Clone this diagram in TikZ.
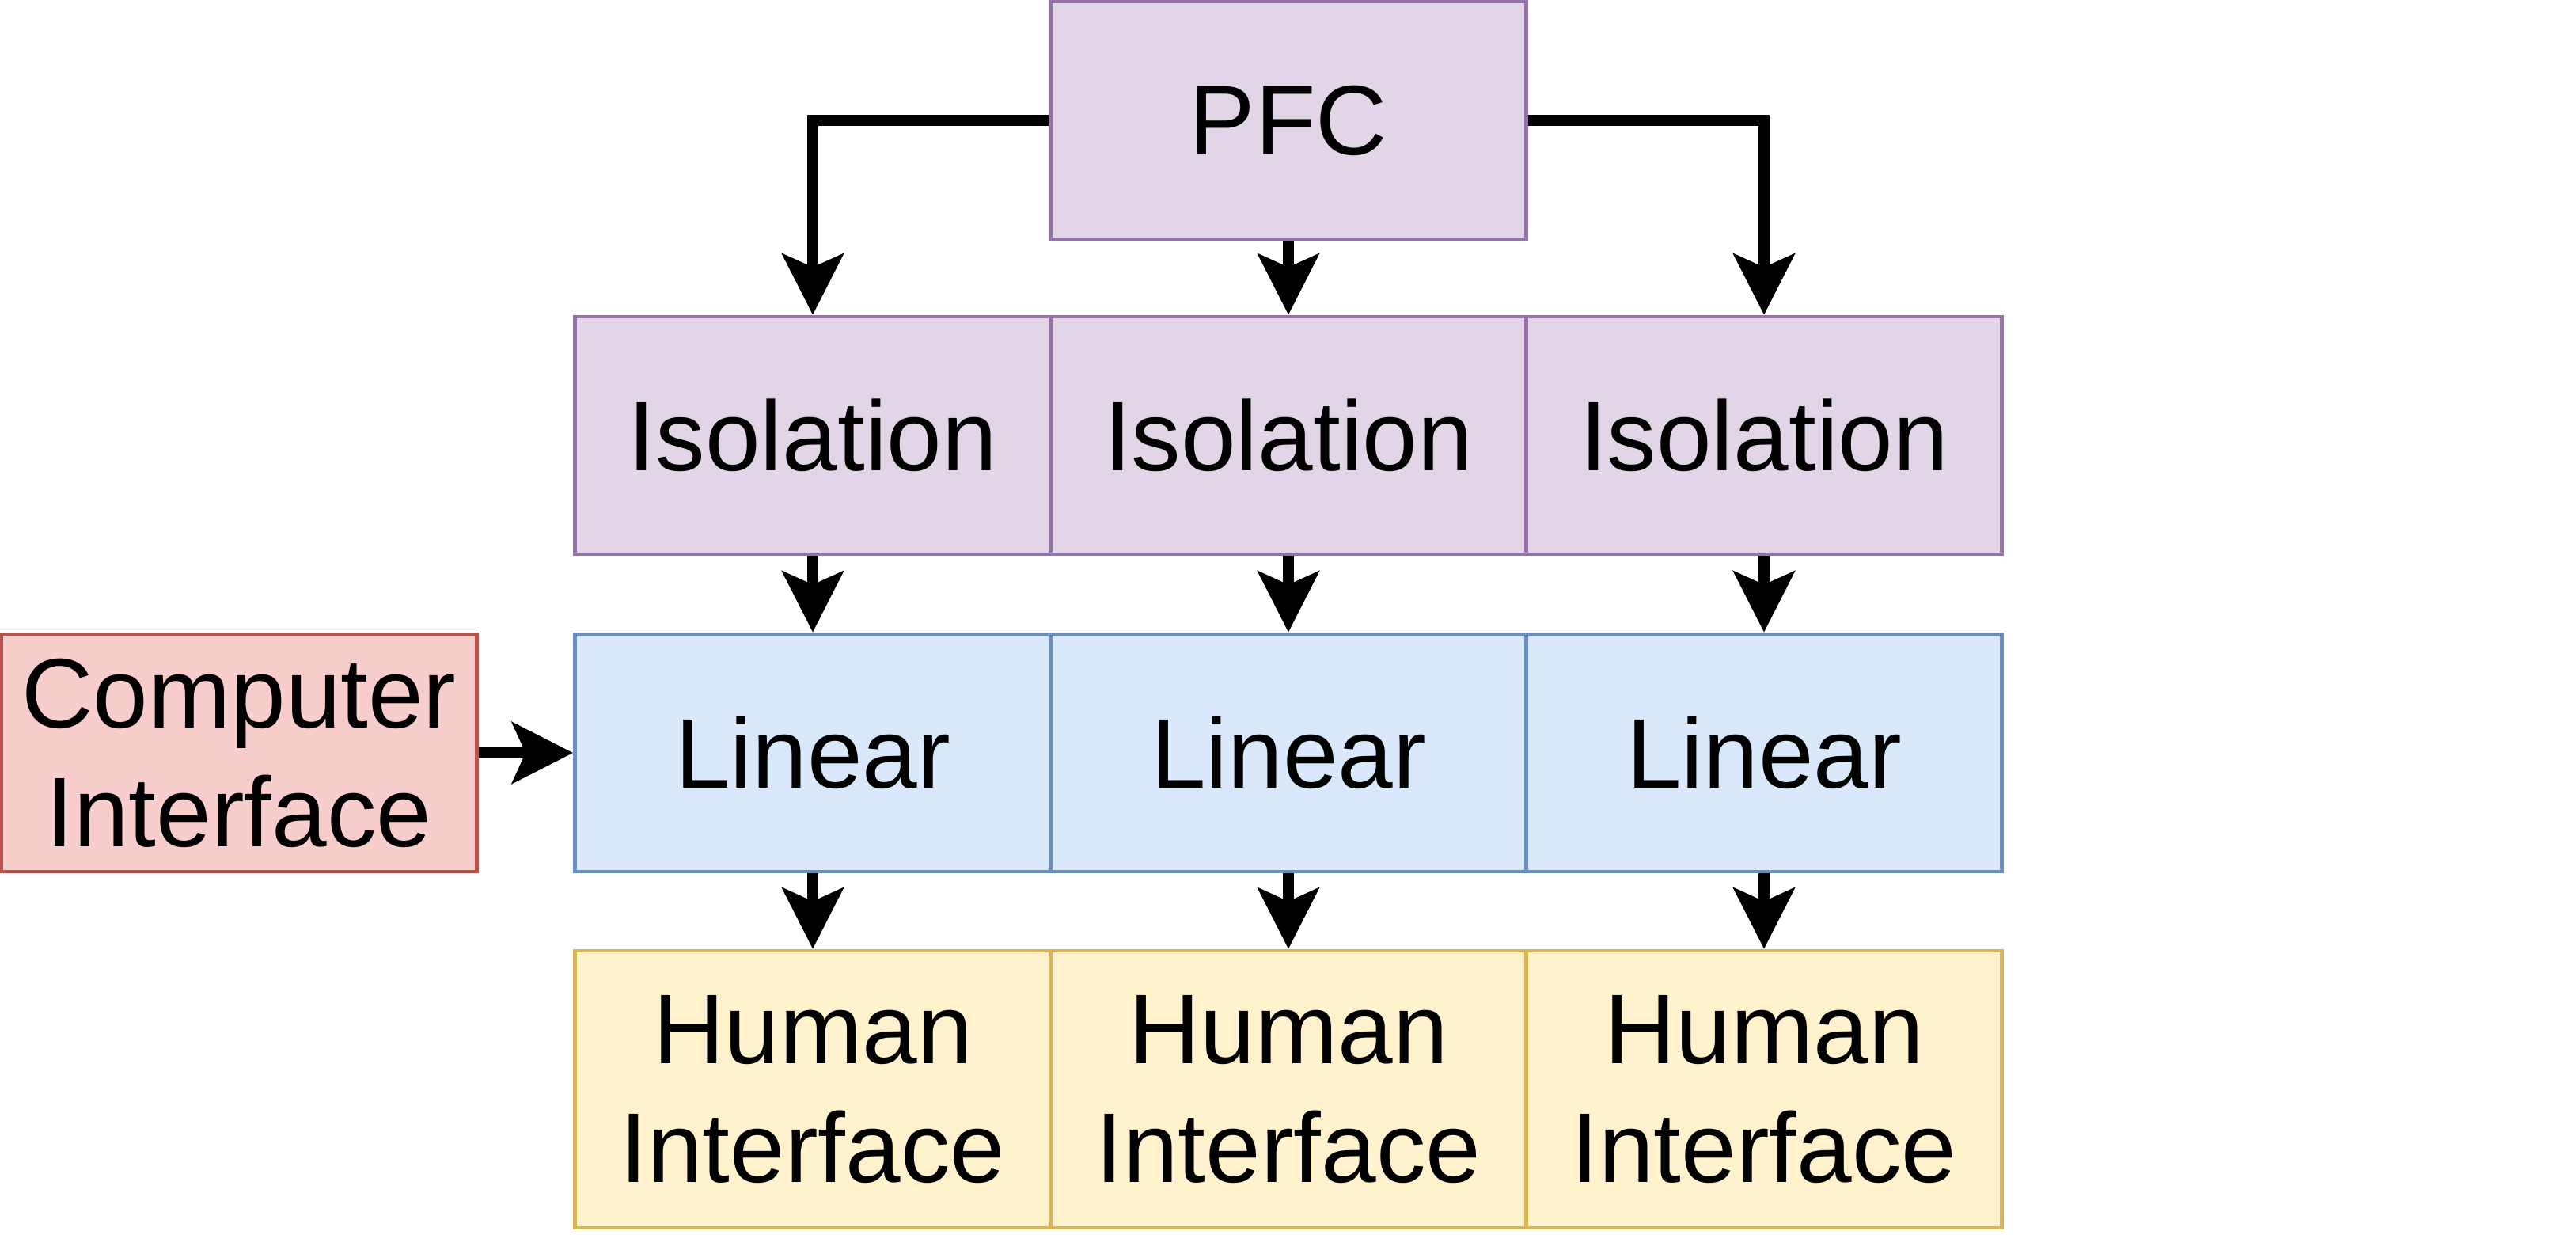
\documentclass[tikz,border=0pt]{standalone}
\usepackage{fontspec}
\setmainfont{Liberation Sans}
\usetikzlibrary{arrows.meta}
\definecolor{pfill}{HTML}{E1D5E7}\definecolor{pdraw}{HTML}{9673A6}
\definecolor{bfill}{HTML}{DAE8FC}\definecolor{bdraw}{HTML}{6C8EBF}
\definecolor{yfill}{HTML}{FFF2CC}\definecolor{ydraw}{HTML}{D6B656}
\definecolor{rfill}{HTML}{F8CECC}\definecolor{rdraw}{HTML}{B85450}
\tikzset{
  box/.style={rectangle, minimum width=6.01cm, minimum height=3.0cm, inner sep=0pt, align=center, line width=1.3pt, font=\fontsize{35.6pt}{42.7pt}\selectfont},
  purplebox/.style={box, fill=pfill, draw=pdraw},
  bluebox/.style={box, fill=bfill, draw=bdraw},
  yellowbox/.style={box, fill=yfill, draw=ydraw, minimum height=3.5cm},
  redbox/.style={box, fill=rfill, draw=rdraw},
  arr/.style={line width=4pt, -{Stealth[length=21.9pt, width=21.9pt, inset=4.8pt]}}
}
\begin{document}
\begin{tikzpicture}
\useasboundingbox (0,0) rectangle (32.55,-15.60);
\node[purplebox] (pfc) at (16.28,-1.52) {PFC};
\node[purplebox] (iso1) at (10.27,-5.50) {Isolation};
\node[purplebox] (iso2) at (16.28,-5.50) {Isolation};
\node[purplebox] (iso3) at (22.29,-5.50) {Isolation};
\node[bluebox] (lin1) at (10.27,-9.51) {Linear};
\node[bluebox] (lin2) at (16.28,-9.51) {Linear};
\node[bluebox] (lin3) at (22.29,-9.51) {Linear};
\node[yellowbox] (hum1) at (10.27,-13.76) {Human\\Interface};
\node[yellowbox] (hum2) at (16.28,-13.76) {Human\\Interface};
\node[yellowbox] (hum3) at (22.29,-13.76) {Human\\Interface};
\node[redbox] (ci) at (3.02,-9.51) {Computer\\Interface};
\draw[arr] (pfc.west) -| (iso1.north);
\draw[arr] (pfc.south) -- (iso2.north);
\draw[arr] (pfc.east) -| (iso3.north);
\draw[arr] (iso1.south) -- (lin1.north);
\draw[arr] (iso2.south) -- (lin2.north);
\draw[arr] (iso3.south) -- (lin3.north);
\draw[arr] (lin1.south) -- (hum1.north);
\draw[arr] (lin2.south) -- (hum2.north);
\draw[arr] (lin3.south) -- (hum3.north);
\draw[arr] (ci.east) -- (lin1.west);
\end{tikzpicture}
\end{document}
